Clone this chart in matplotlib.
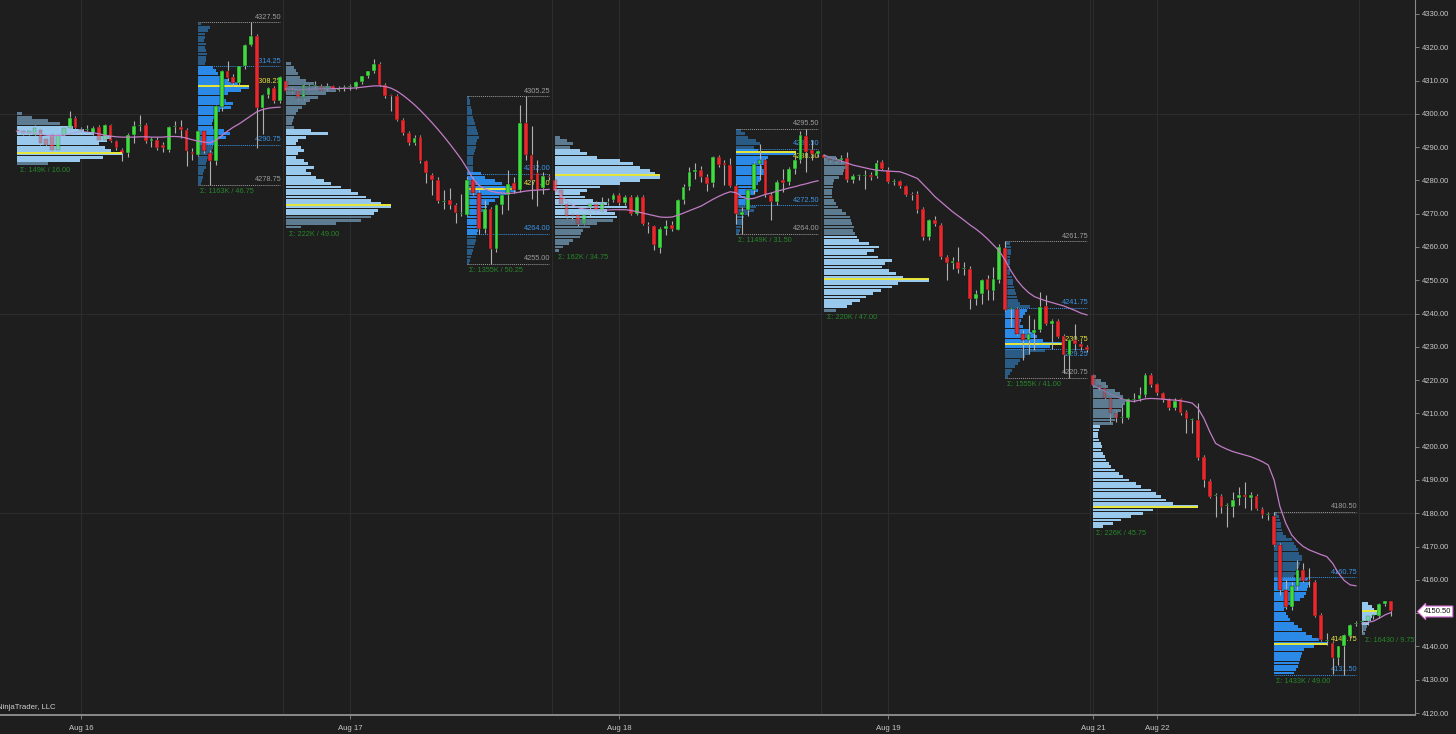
import matplotlib
matplotlib.use('Agg')
import matplotlib.pyplot as plt
import matplotlib.transforms as mtransforms
import numpy as np

plt.rcParams['font.family'] = ['Liberation Sans', 'DejaVu Sans']

# ---- 30 min bars (open, high, low, close), one list per trading session ----
bars_aug16 = [
    (4295.0, 4296.0, 4294.25, 4294.75), (4294.75, 4295.5, 4293.75, 4294.25), (4294.25, 4295.25, 4293.5, 4294.75),
    (4293.75, 4296.5, 4293.25, 4295.75), (4295.25, 4296.0, 4290.75, 4291.25), (4292.5, 4293.0, 4290.0, 4290.75),
    (4293.5, 4294.25, 4288.75, 4289.25), (4289.25, 4294.0, 4289.0, 4293.75), (4293.75, 4296.0, 4293.25, 4295.75),
    (4295.75, 4301.0, 4295.25, 4298.75), (4298.75, 4299.5, 4295.25, 4295.75), (4295.5, 4296.0, 4294.5, 4295.0),
    (4295.0, 4296.5, 4294.75, 4295.5), (4294.25, 4296.25, 4293.75, 4295.75), (4296.0, 4296.5, 4291.75, 4292.25),
    (4292.25, 4297.0, 4291.75, 4296.5), (4296.5, 4297.0, 4291.5, 4291.75), (4291.75, 4292.25, 4289.25, 4289.75),
    (4289.25, 4289.75, 4285.75, 4288.25), (4288.25, 4294.25, 4287.0, 4293.75), (4293.75, 4297.75, 4291.25, 4296.25),
    (4296.25, 4299.75, 4294.75, 4296.25), (4296.5, 4297.25, 4291.25, 4291.75), (4291.75, 4293.0, 4290.0, 4292.5),
    (4292.25, 4293.0, 4289.0, 4289.75), (4290.75, 4291.5, 4288.5, 4289.75), (4289.25, 4296.25, 4288.5, 4296.0),
    (4296.0, 4297.75, 4294.25, 4296.25), (4296.0, 4298.25, 4292.75, 4295.25), (4295.25, 4295.75, 4284.25, 4288.75),
    (4288.5, 4289.75, 4286.25, 4288.0), (4287.75, 4295.0, 4287.25, 4294.75), (4294.75, 4295.25, 4288.25, 4288.75),
    (4288.25, 4289.0, 4278.75, 4285.75), (4285.75, 4302.75, 4284.75, 4302.25), (4302.0, 4313.25, 4301.0, 4312.75),
    (4312.75, 4315.75, 4309.75, 4310.75), (4311.0, 4312.0, 4308.25, 4309.25), (4309.25, 4314.5, 4308.75, 4314.25),
    (4314.25, 4321.0, 4313.5, 4320.75), (4320.75, 4327.5, 4320.25, 4323.5), (4323.5, 4324.0, 4289.75, 4301.75),
    (4301.75, 4306.0, 4294.0, 4305.75), (4305.75, 4308.0, 4304.75, 4307.75), (4307.75, 4308.5, 4303.25, 4303.75),
    (4303.75, 4311.5, 4303.25, 4311.0),
]
bars_aug17 = [
    (4309.75, 4310.5, 4306.5, 4307.0), (4307.0, 4308.0, 4306.25, 4307.25), (4306.75, 4307.25, 4304.25, 4304.75),
    (4304.75, 4309.25, 4304.25, 4308.75), (4308.0, 4309.0, 4307.25, 4308.25), (4308.25, 4310.0, 4307.5, 4308.75),
    (4308.5, 4309.0, 4306.5, 4307.0), (4307.75, 4309.25, 4307.0, 4308.25), (4308.25, 4308.75, 4306.75, 4307.25),
    (4307.25, 4308.5, 4306.75, 4307.75), (4307.75, 4308.75, 4307.0, 4308.0), (4308.0, 4309.0, 4307.25, 4308.25),
    (4308.0, 4309.75, 4307.5, 4309.5), (4309.5, 4311.5, 4309.0, 4311.25), (4311.25, 4313.0, 4310.75, 4312.75),
    (4312.75, 4316.5, 4312.25, 4315.0), (4315.0, 4315.5, 4308.25, 4308.75), (4308.75, 4309.25, 4304.75, 4305.25),
    (4305.5, 4306.0, 4300.75, 4305.25), (4305.5, 4306.0, 4297.75, 4298.25), (4298.25, 4298.75, 4293.75, 4294.25),
    (4294.25, 4294.75, 4290.75, 4291.25), (4291.25, 4293.5, 4290.75, 4292.75), (4293.0, 4293.5, 4285.25, 4285.75),
    (4285.75, 4286.25, 4279.25, 4282.25), (4281.75, 4282.25, 4275.75, 4280.25), (4280.25, 4281.0, 4273.25, 4273.75),
    (4273.5, 4277.0, 4271.5, 4273.75), (4274.0, 4277.75, 4271.5, 4272.75), (4272.75, 4273.25, 4267.25, 4270.25),
    (4270.0, 4276.0, 4269.25, 4270.25), (4269.75, 4281.0, 4269.25, 4280.25), (4280.25, 4281.0, 4275.75, 4276.25),
    (4276.25, 4277.25, 4264.0, 4265.5), (4265.5, 4274.0, 4264.25, 4271.5), (4271.5, 4272.0, 4255.0, 4259.5),
    (4259.5, 4273.0, 4258.5, 4272.5), (4272.5, 4276.0, 4270.0, 4275.5), (4275.5, 4283.0, 4271.25, 4279.0),
    (4279.25, 4281.0, 4276.25, 4277.25), (4277.25, 4302.75, 4276.5, 4297.25), (4297.25, 4305.25, 4286.0, 4287.75),
    (4287.75, 4296.25, 4274.5, 4280.0), (4282.25, 4286.25, 4272.25, 4277.25), (4277.75, 4282.5, 4276.0, 4281.25),
    (4281.25, 4282.0, 4280.25, 4281.0),
]
bars_aug18 = [
    (4280.0, 4280.75, 4276.25, 4276.75), (4277.0, 4277.5, 4272.75, 4273.0), (4273.0, 4273.5, 4268.75, 4269.25),
    (4269.75, 4270.5, 4268.25, 4269.25), (4269.5, 4270.25, 4266.25, 4267.0), (4267.0, 4270.0, 4266.5, 4269.5),
    (4272.0, 4273.5, 4269.25, 4273.0), (4273.0, 4273.75, 4270.5, 4271.25), (4270.75, 4275.0, 4270.25, 4273.25),
    (4273.25, 4274.75, 4272.5, 4273.5), (4274.0, 4276.25, 4273.5, 4275.75), (4275.75, 4276.25, 4272.75, 4273.25),
    (4273.25, 4275.5, 4272.75, 4275.0), (4275.0, 4275.5, 4269.5, 4270.0), (4270.0, 4275.5, 4269.5, 4275.0),
    (4275.0, 4275.5, 4266.5, 4267.0), (4266.75, 4267.5, 4264.25, 4266.25), (4266.25, 4266.75, 4259.0, 4260.5),
    (4259.75, 4266.0, 4258.25, 4265.5), (4265.5, 4268.25, 4263.75, 4266.25), (4266.5, 4267.75, 4264.75, 4265.5),
    (4265.25, 4274.5, 4265.0, 4274.0), (4274.0, 4279.0, 4273.0, 4278.0), (4278.0, 4284.0, 4277.0, 4282.5),
    (4282.5, 4285.25, 4280.5, 4283.0), (4283.25, 4284.25, 4279.5, 4281.0), (4281.0, 4282.0, 4276.75, 4279.0),
    (4279.25, 4287.25, 4278.0, 4287.0), (4287.0, 4287.75, 4284.0, 4284.5), (4285.25, 4286.0, 4278.5, 4284.5),
    (4284.5, 4286.75, 4278.0, 4278.25), (4278.25, 4279.0, 4267.0, 4270.0), (4269.5, 4272.0, 4264.0, 4270.5),
    (4271.0, 4277.5, 4269.25, 4277.0), (4277.0, 4285.5, 4276.0, 4285.0), (4285.0, 4291.0, 4280.0, 4286.0),
    (4286.0, 4286.75, 4275.0, 4275.5), (4275.5, 4276.5, 4268.0, 4273.5), (4273.5, 4280.0, 4272.75, 4279.5),
    (4280.0, 4283.5, 4276.5, 4279.25), (4279.5, 4284.0, 4278.75, 4283.5), (4283.5, 4287.0, 4282.0, 4286.0),
    (4286.0, 4294.75, 4285.25, 4293.5), (4293.25, 4295.5, 4282.5, 4288.5), (4289.25, 4292.0, 4286.0, 4288.0),
    (4288.0, 4289.25, 4287.0, 4288.75),
]
bars_aug19 = [
    (4287.5, 4288.0, 4286.25, 4286.75), (4286.5, 4287.25, 4285.5, 4286.25), (4286.25, 4287.0, 4285.25, 4285.75),
    (4286.0, 4287.5, 4285.25, 4286.75), (4286.75, 4288.5, 4279.5, 4280.0), (4280.0, 4282.0, 4279.25, 4281.25),
    (4281.25, 4282.0, 4280.25, 4281.25), (4281.25, 4283.25, 4277.5, 4281.25), (4281.75, 4282.5, 4280.25, 4281.0),
    (4281.25, 4286.0, 4280.75, 4285.25), (4285.5, 4286.0, 4283.0, 4283.5), (4283.25, 4284.0, 4279.25, 4279.5),
    (4279.5, 4280.5, 4278.75, 4279.5), (4279.75, 4280.25, 4277.75, 4278.25), (4278.25, 4278.75, 4275.25, 4275.75),
    (4276.0, 4276.5, 4274.0, 4275.75), (4276.0, 4276.75, 4270.25, 4271.0), (4271.5, 4272.0, 4262.0, 4263.0),
    (4263.0, 4268.5, 4262.0, 4268.0), (4268.0, 4269.25, 4266.25, 4267.0), (4266.75, 4267.25, 4256.5, 4257.0),
    (4257.0, 4257.5, 4250.0, 4255.25), (4255.25, 4257.0, 4253.5, 4255.75), (4255.5, 4260.0, 4252.25, 4253.25),
    (4253.5, 4255.5, 4251.5, 4253.75), (4253.5, 4254.25, 4241.25, 4244.5), (4244.5, 4247.0, 4242.5, 4246.0),
    (4246.0, 4250.5, 4243.0, 4250.0), (4250.5, 4251.5, 4244.0, 4247.0), (4246.75, 4254.0, 4244.0, 4250.5),
    (4250.0, 4261.0, 4249.25, 4260.0), (4259.75, 4261.75, 4240.75, 4241.0), (4241.25, 4242.0, 4236.0, 4241.25),
    (4241.25, 4242.0, 4233.5, 4234.0), (4234.0, 4235.0, 4226.0, 4232.0), (4232.0, 4239.5, 4228.0, 4234.0),
    (4234.25, 4238.5, 4229.0, 4235.0), (4235.0, 4246.5, 4234.5, 4242.0), (4242.25, 4245.5, 4236.5, 4237.0),
    (4237.0, 4238.5, 4229.5, 4237.75), (4237.75, 4238.25, 4232.75, 4233.0), (4233.25, 4233.75, 4222.0, 4227.5),
    (4227.5, 4232.5, 4220.75, 4232.0), (4232.0, 4237.0, 4229.0, 4231.0), (4231.0, 4231.75, 4229.0, 4230.0),
    (4230.0, 4230.5, 4228.5, 4229.0),
]
bars_aug22 = [
    (4221.5, 4221.75, 4218.0, 4218.5), (4218.5, 4219.25, 4217.0, 4218.0), (4217.5, 4218.25, 4214.25, 4214.75),
    (4214.5, 4215.0, 4207.0, 4210.0), (4210.0, 4211.0, 4207.5, 4208.75), (4208.75, 4213.0, 4207.0, 4208.75),
    (4208.75, 4214.75, 4208.25, 4214.25), (4214.0, 4216.0, 4213.5, 4214.25), (4214.25, 4218.0, 4213.75, 4215.5),
    (4215.5, 4222.0, 4215.0, 4221.5), (4221.5, 4222.0, 4218.0, 4218.5), (4218.75, 4219.25, 4215.5, 4216.0),
    (4216.0, 4216.5, 4213.5, 4214.0), (4214.25, 4214.75, 4211.0, 4211.5), (4211.5, 4214.5, 4211.0, 4213.75),
    (4214.25, 4214.75, 4209.5, 4210.0), (4210.5, 4211.0, 4204.0, 4208.25), (4208.0, 4208.5, 4204.0, 4208.0),
    (4208.0, 4213.0, 4196.0, 4196.5), (4197.0, 4197.5, 4188.0, 4190.0), (4189.75, 4190.25, 4184.5, 4185.0),
    (4185.25, 4186.0, 4179.0, 4185.25), (4185.25, 4185.75, 4180.0, 4182.0), (4182.25, 4183.0, 4176.0, 4182.25),
    (4182.0, 4186.5, 4179.0, 4184.0), (4184.5, 4188.0, 4182.5, 4185.5), (4185.5, 4189.5, 4181.5, 4184.75),
    (4184.5, 4186.5, 4181.0, 4185.5), (4185.25, 4185.75, 4181.0, 4181.25), (4181.25, 4181.75, 4178.5, 4179.5),
    (4179.5, 4180.25, 4178.0, 4179.5), (4179.25, 4180.5, 4170.25, 4170.5), (4170.5, 4171.0, 4155.5, 4157.0),
    (4157.0, 4160.0, 4151.25, 4151.75), (4151.75, 4159.5, 4151.0, 4158.25), (4158.25, 4166.0, 4157.0, 4163.0),
    (4163.0, 4165.0, 4159.5, 4159.75), (4160.0, 4163.5, 4158.0, 4159.75), (4159.5, 4160.0, 4148.75, 4149.0),
    (4149.5, 4150.0, 4141.75, 4142.0), (4141.5, 4144.0, 4140.5, 4141.5), (4141.0, 4141.5, 4131.75, 4136.5),
    (4136.5, 4140.25, 4134.5, 4140.0), (4140.0, 4143.75, 4131.5, 4143.5), (4143.25, 4146.75, 4142.5, 4146.5),
    (4146.75, 4147.5, 4146.25, 4147.0),
]
bars_aug23 = [
    (4147.25, 4148.0, 4144.0, 4147.5), (4147.5, 4149.5, 4146.5, 4149.0), (4149.0, 4150.0, 4148.25, 4149.25),
    (4149.25, 4153.0, 4148.5, 4152.75), (4152.75, 4153.75, 4152.25, 4153.5), (4153.5, 4153.75, 4149.25, 4150.5),
]

# session vwap, read per bar
vwap_aug16 = [4294.7, 4294.5, 4294.3, 4294.2, 4293.9, 4293.6, 4293.4, 4293.5, 4293.6, 4294.0,
              4294.4, 4294.7, 4294.5, 4294.3, 4294.0, 4293.6, 4293.3, 4293.1, 4293.0, 4293.0,
              4293.0, 4293.1, 4293.1, 4293.0, 4293.0, 4293.0, 4293.2, 4293.2, 4293.1, 4292.7,
              4292.2, 4291.8, 4291.5, 4291.3, 4292.0, 4293.4, 4294.8, 4296.0, 4297.0, 4298.2,
              4299.4, 4300.6, 4301.3, 4301.7, 4301.9, 4302.0]
vwap_aug17 = [4307.5, 4307.4, 4307.2, 4307.3, 4307.4, 4307.5, 4307.5, 4307.6, 4307.6, 4307.6,
              4307.7, 4307.7, 4307.8, 4308.0, 4308.2, 4308.4, 4308.4, 4308.2, 4307.7, 4306.8,
              4305.6, 4304.2, 4302.7, 4301.0, 4299.2, 4297.3, 4295.3, 4293.2, 4291.0, 4288.7,
              4286.3, 4283.5, 4280.5, 4278.5, 4277.5, 4276.8, 4276.4, 4276.2, 4276.1, 4276.2,
              4276.5, 4276.8, 4277.0, 4277.1, 4277.2, 4277.3]
vwap_aug18 = [4277.3, 4275.5, 4273.8, 4272.6, 4271.8, 4271.4, 4271.2, 4271.1, 4271.1, 4271.1,
              4271.2, 4271.2, 4271.2, 4271.0, 4270.6, 4270.2, 4269.8, 4269.4, 4269.0, 4268.9,
              4269.0, 4269.5, 4270.2, 4270.9, 4271.6, 4272.3, 4273.3, 4274.3, 4275.2, 4276.0,
              4276.6, 4276.3, 4275.0, 4274.4, 4274.6, 4275.2, 4275.8, 4276.2, 4276.8, 4277.2,
              4277.7, 4278.1, 4278.6, 4279.0, 4279.5, 4279.9]
vwap_aug19 = [4287.6, 4287.0, 4286.4, 4285.8, 4285.2, 4284.6, 4284.2, 4283.8, 4283.4, 4283.1,
              4282.9, 4282.8, 4282.7, 4282.6, 4282.0, 4281.3, 4280.6, 4278.8, 4277.0, 4275.1,
              4273.6, 4272.1, 4270.6, 4269.3, 4268.0, 4266.6, 4265.4, 4264.0, 4262.4, 4260.6,
              4258.8, 4256.0, 4252.8, 4250.1, 4248.0, 4246.3, 4245.1, 4244.4, 4243.8, 4243.3,
              4242.8, 4242.3, 4241.6, 4240.9, 4240.1, 4239.6]
vwap_aug22 = [4218.5, 4217.6, 4216.7, 4215.8, 4215.0, 4214.4, 4213.8, 4213.6, 4214.0, 4214.4,
              4214.5, 4214.4, 4214.3, 4214.1, 4214.0, 4213.8, 4213.5, 4213.1, 4211.5, 4208.5,
              4204.5, 4201.0, 4200.0, 4199.2, 4198.5, 4198.0, 4197.5, 4197.0, 4196.3, 4195.5,
              4194.5, 4190.0, 4182.0, 4177.0, 4173.5, 4171.5, 4170.0, 4169.0, 4168.3, 4167.6,
              4167.0, 4165.0, 4162.0, 4159.8, 4158.5, 4158.2]
vwap_aug23 = [4146.8, 4147.2, 4147.6, 4148.5, 4149.5, 4150.2]

# volume profiles: volume per 1 pt row, from the top price down
eth16_top, eth16_vol = 4300, [5, 15, 30, 42, 55, 66, 75, 92, 88, 80, 86, 92, 103, 84, 62, 30]
rth16_top, rth16_vol = 4327, [3, 12, 10, 7, 7, 6, 8, 7, 8, 9, 8, 8, 7,
                              15, 18, 20, 22, 30, 40, 50, 42, 30, 25, 28, 35, 33, 22, 18, 18, 15, 14, 15, 26, 32, 28, 20, 18,
                              15, 14, 15, 12, 9, 8, 8, 6, 5, 5, 4, 3]
eth17_top, eth17_vol = 4315, [5, 8, 10, 12, 14, 20, 28, 45, 50, 40, 32, 24, 20, 16, 12, 10, 8, 7, 6, 8,
                              25, 42, 20, 12, 10, 15, 18, 12, 10, 18, 22, 28, 20, 25, 30, 38, 45, 55, 65, 72, 80, 85, 95,
                              105, 92, 88, 85, 75, 50, 15]
rth17_top, rth17_vol = 4305, [2, 3, 3, 4, 5, 5, 6, 7, 8, 9, 10, 11, 12, 10, 9, 9, 8, 7, 6, 6, 6, 6, 6,
                              14, 18, 28, 35, 45, 49, 40, 32, 28, 22, 20, 16, 14, 14, 12, 12, 11, 11, 10,
                              9, 9, 8, 7, 6, 5, 4, 3, 2]
eth18_top, eth18_vol = 4293, [5, 12, 18, 15,
                              25, 32, 42, 65, 78, 85, 95, 100, 105, 85, 65, 45, 32, 25, 30, 38, 52, 72, 52, 60, 62,
                              58, 42, 35, 28, 26, 25, 18, 14, 8, 4]
rth18_top, rth18_vol = 4295, [5, 9, 12, 20, 24, 18,
                              22, 60, 32, 30, 28, 26, 30, 28, 25, 24, 22, 20, 22, 18, 14, 12, 11,
                              20, 18, 12, 8, 7, 6, 5, 4, 3]
eth19_top, eth19_vol = 4287, [12, 16, 22, 23, 20, 19, 15, 10, 9, 9, 8, 8, 8, 10, 12, 14, 18, 22, 26, 27, 28, 30, 29, 31,
                              33, 35, 45, 56, 50, 43, 55, 69, 62, 59, 66, 73, 80, 106, 75, 69, 58, 49, 42, 36, 28, 23,
                              12]
rth19_top, rth19_vol = 4261, [5, 6, 6, 6, 5, 5, 5, 5, 5, 5, 7, 8, 8, 9, 10, 11, 12, 13, 15,
                              25, 22, 20, 18, 16, 15, 18, 24, 30, 32, 38, 58, 45, 40,
                              25, 20, 15, 13, 10, 7, 5, 3]
eth22_top, eth22_vol = 4221, [3, 8, 13, 15, 22, 27, 30, 33, 32, 30, 28, 25, 24, 22, 20,
                              7, 6, 5, 5, 6, 8, 9, 8, 10, 12, 13, 16, 18, 22, 26, 30, 36, 43, 48, 58, 63, 68, 73, 80,
                              105, 60, 50, 38, 28, 20, 10]
rth22_top, rth22_vol = 4180, [3, 5, 6, 7, 7, 8, 9, 12, 18, 20, 22, 24, 25, 28, 28, 26, 25, 24, 22, 20,
                              34, 35, 34, 33, 32, 30, 26, 18, 12, 10, 12, 14, 16, 20, 24, 28, 32, 38, 45, 53, 40, 30, 28,
                              27, 26, 25, 24, 22, 20]
eth23_top, eth23_vol = 4153, [6, 10, 12, 15, 10, 9, 7, 5, 4, 3]

# value area (low, high) and POC of each profile
eth_va = [(4286, 4296), (4270, 4295), (4269, 4289), (4242, 4263), (4176, 4206), (4147, 4153)]
eth_poc = [4288.25, 4272.5, 4281.5, 4250.5, 4181.75, 4150.75]
eth_sigma = ['Σ: 149K / 16.00', 'Σ: 222K / 49.00', 'Σ: 162K / 34.75', 'Σ: 220K / 47.00',
             'Σ: 226K / 45.75', 'Σ: 16430 / 9.75']
# RTH: high, VAH, POC, VAL, low
rth_levels = [(4327.50, 4314.25, 4308.25, 4290.75, 4278.75),
              (4305.25, 4282.00, 4277.50, 4264.00, 4255.00),
              (4295.50, 4289.50, 4288.50, 4272.50, 4264.00),
              (4261.75, 4241.75, 4230.75, 4229.25, 4220.75),
              (4180.50, 4160.75, 4140.75, 4131.50, 4131.50)]
rth_sigma = ['Σ: 1163K / 46.75', 'Σ: 1355K / 50.25', 'Σ: 1149K / 31.50', 'Σ: 1555K / 41.00',
             'Σ: 1433K / 49.00']

date_labels = ['Aug 16', 'Aug 17', 'Aug 18', 'Aug 19', 'Aug 21', 'Aug 22']
date_bars = [11, 57, 103, 149, 184, 195]
last_price = 4150.50

# ---- style ----
BG = '#1e1e1e'
UP, DN = '#3fdc3f', '#e8282c'
WICK = '#b0b0b0'
ETH_VA, ETH_OUT = '#98c8ec', '#5d7c92'
RTH_VA, RTH_OUT = '#2b8ae8', '#2a5b85'
POC_COL = '#e8e83a'
VA_TXT = '#3b93e6'
HL_TXT = '#9c9c9c'
SIG_TXT = '#27862a'
VWAP_COL = '#c27cc6'
GRID = '#2c2c2c'
AX_TXT = '#c8c8c8'
FS = 5.3
ROW_H = 0.85
RTH_OFFSET = 31
ETH_W = 18.0
RTH_W = [8.6, 8.4, 10.3, 9.9, 9.1]

sessions = [bars_aug16, bars_aug17, bars_aug18, bars_aug19, bars_aug22, bars_aug23]
vwaps = [vwap_aug16, vwap_aug17, vwap_aug18, vwap_aug19, vwap_aug22, vwap_aug23]
eth_profiles = [(eth16_top, eth16_vol), (eth17_top, eth17_vol), (eth18_top, eth18_vol),
                (eth19_top, eth19_vol), (eth22_top, eth22_vol), (eth23_top, eth23_vol)]
rth_profiles = [(rth16_top, rth16_vol), (rth17_top, rth17_vol), (rth18_top, rth18_vol),
                (rth19_top, rth19_vol), (rth22_top, rth22_vol)]

starts = np.cumsum([0] + [len(s) for s in sessions])[:-1]
ohlc = np.array([b for s in sessions for b in s])
xs = np.arange(len(ohlc))

fig = plt.figure(figsize=(14.56, 7.34), dpi=100)
fig.patch.set_facecolor(BG)
ax = fig.add_axes([0, 19 / 734, 1415 / 1456, 715 / 734])
ax.set_facecolor(BG)
ax.set_xlim(-2.91, 239.1)
ax.set_ylim(4119.4, 4334.2)

# grid
for x in date_bars:
    ax.axvline(x, color=GRID, lw=0.8, zorder=0)
for st, s in zip(starts[:-1], sessions[:-1]):
    ax.axvline(st + len(s) - 0.5, color=GRID, lw=0.8, zorder=0)
for y in [4180, 4240, 4300]:
    ax.axhline(y, color=GRID, lw=0.8, zorder=0)


def draw_profile(left, top, vols, va, poc, max_w, va_col, out_col, z, alpha, with_poc=True):
    vols = np.asarray(vols, float)
    levels = top - np.arange(len(vols))
    w = vols / vols.max() * max_w
    cols = [va_col if va[0] <= p <= va[1] else out_col for p in levels]
    ax.barh(levels, w, left=left, height=ROW_H, color=cols, alpha=alpha, lw=0, zorder=z)
    if with_poc:
        ax.plot([left, left + max_w], [poc, poc], color=POC_COL, lw=1.4, zorder=z + 0.1,
                solid_capstyle='butt')
    return levels[-1] - 0.5


def level_label(x, y, txt, col, below=False):
    if below:
        ax.text(x, y - 0.4, txt, ha='right', va='top', fontsize=FS, color=col, zorder=2)
    else:
        ax.text(x, y + 0.4, txt, ha='right', va='bottom', fontsize=FS, color=col, zorder=2)


# RTH profiles (under the candles) with their levels
for k, ((top, vols), lv, sig) in enumerate(zip(rth_profiles, rth_levels, rth_sigma)):
    st = starts[k]
    left = st + RTH_OFFSET
    right = st + len(sessions[k]) - 1
    hi, vah, poc, val, lo = lv
    draw_profile(left, top, vols, (val, vah), poc, RTH_W[k], RTH_VA, RTH_OUT, 1.5, 1.0)
    ax.plot([left, right], [hi, hi], color=HL_TXT, lw=0.7, ls=(0, (1, 1)), zorder=2)
    ax.plot([left, right], [vah, vah], color=VA_TXT, lw=0.7, ls=(0, (1, 1)), zorder=2)
    ax.plot([left, right], [val, val], color=VA_TXT, lw=0.7, ls=(0, (1, 1)), zorder=2)
    if lo != val:
        ax.plot([left, right], [lo, lo], color=HL_TXT, lw=0.7, ls=(0, (1, 1)), zorder=2)
    tx = right + 0.2
    level_label(tx, hi, f'{hi:.2f}', HL_TXT)
    level_label(tx, vah, f'{vah:.2f}', VA_TXT)
    # keep close labels apart: POC under its line when it sits next to VAH
    level_label(tx, poc, f'{poc:.2f}', POC_COL, below=(vah - poc) < 2.5)
    level_label(tx, val, f'{val:.2f}', VA_TXT, below=(poc - val) < 2.5)
    if lo != val:
        level_label(tx, lo, f'{lo:.2f}', HL_TXT)
    ax.text(left + 0.3, lo - 0.9, sig, ha='left', va='top', fontsize=FS, color=SIG_TXT, zorder=2)

# overnight profiles: solid layer under the candles ...
for k, ((top, vols), va, poc) in enumerate(zip(eth_profiles, eth_va, eth_poc)):
    w = ETH_W if k < 5 else 2.6
    draw_profile(starts[k], top, vols, va, poc, w, ETH_VA, ETH_OUT, 1.5, 1.0, with_poc=False)

# candles
o, h, l, c = ohlc.T
up = c >= o
body_lo = np.minimum(o, c)
body_h = np.maximum(np.abs(c - o), 0.3)
ax.vlines(xs, l, h, color=WICK, lw=0.8, zorder=2.9)
ax.bar(xs, body_h, bottom=body_lo, width=0.64, color=np.where(up, UP, DN),
       edgecolor='#101010', linewidth=0.3, zorder=3)

# vwap per session
for st, vw in zip(starts, vwaps):
    ax.plot(st + np.arange(len(vw)), vw, color=VWAP_COL, lw=0.9, zorder=3.5)

# ... and a translucent layer over them, which washes out the candles behind
for k, ((top, vols), va, poc, sig) in enumerate(zip(eth_profiles, eth_va, eth_poc, eth_sigma)):
    st = starts[k]
    w = ETH_W if k < 5 else 2.6
    bottom = draw_profile(st, top, vols, va, poc, w, ETH_VA, ETH_OUT, 4, 0.6)
    ax.text(st + 0.5, bottom - 0.6, sig, ha='left', va='top', fontsize=FS, color=SIG_TXT, zorder=4.5)

# axes
for sp in ['top', 'left']:
    ax.spines[sp].set_visible(False)
ax.spines['right'].set_color('#8a8a8a')
ax.spines['bottom'].set_color('#8a8a8a')
ax.spines['bottom'].set_linewidth(1.4)
ax.yaxis.tick_right()
yt = np.arange(4120, 4331, 10)
ax.set_yticks(yt)
ax.set_yticklabels([f'{v:.2f}' for v in yt])
ax.set_xticks(date_bars)
ax.set_xticklabels(date_labels)
ax.tick_params(axis='y', colors='#8a8a8a', labelcolor=AX_TXT, labelsize=FS + 0.2, length=3, width=0.6, pad=2)
ax.tick_params(axis='x', colors='#8a8a8a', labelcolor=AX_TXT, labelsize=FS + 0.3, length=3, width=0.6, pad=4)

# last price marker
trans = mtransforms.blended_transform_factory(ax.transAxes, ax.transData)
ax.text(1.006, last_price, f'{last_price:.2f}', transform=trans, ha='left', va='center',
        fontsize=FS + 0.2, color='#111111', zorder=10, clip_on=False,
        bbox=dict(boxstyle='larrow,pad=0.25', fc='white', ec='#e07ae0', lw=0.8))

fig.text(-0.002, 0.032, 'NinjaTrader, LLC', fontsize=FS + 0.3, color='#d0d0d0', ha='left', va='bottom')

fig.savefig('out.png', dpi=100, facecolor=BG)
